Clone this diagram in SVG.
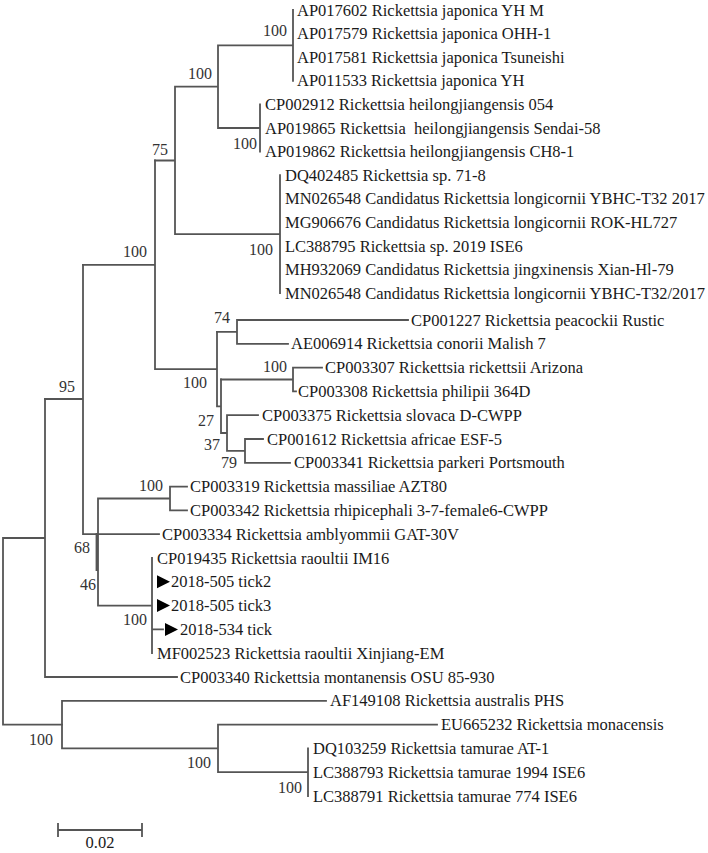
<svg xmlns="http://www.w3.org/2000/svg" width="708" height="853" viewBox="0 0 708 853">
<style>
.br{fill:none;stroke:#555;stroke-width:1.8;stroke-linecap:square}
.lf{font-family:"Liberation Serif","Times New Roman",serif;font-size:16.5px;fill:#1a1a1a}
.bs{font-family:"Liberation Serif","Times New Roman",serif;font-size:16px;fill:#333;text-anchor:end}
.mk{fill:#000}
</style>
<defs>
<polygon id="tri" points="0,-6.5 13,0 0,6.5"/>
</defs>
<rect width="708" height="853" fill="#fff"/>
<g id="connectors" class="br">
<path d="M293,10V80.8M218,45.4H293M260,104.4V151.6M218,128H260M218,45.4V128M175,86.7H218M280,175.2V293.2M175,234.2H280M175,86.7V234.2M155,160.5H175"/>
<path d="M237,320V343.8M237,320H408M237,343.8H288M217,331.9H237"/>
<path d="M293,367.6V391.4M293,367.6H322M293,391.4H296M221,379.5H293"/>
<path d="M245,439V462.8M245,439H263M245,462.8H290M227,450.9H245M227,415.2V450.9M227,415.2H258M221,433H227M221,379.5V433M217,406.3H221M217,331.9V406.3M155,369.1H217M155,160.5V369.1M83,264.8H155"/>
<path d="M83,264.8V534.2M45,399H83M83,534.2H159"/>
<path d="M170,486.6V510.4M170,486.6H187M170,510.4H187M98,498.5H170M152,558V653.2M98,605.6H152M152,629.4H163M98,498.5V605.6M96.5,534V570"/>
<path d="M45,399V677M45,677H177M3,538H45M3,538V724.6M3,724.6H62"/>
<path d="M62,700.8V748.4M62,700.8H326M62,748.4H218M218,724.6V772.2M218,724.6H437M218,772.2H308M308,748.4V796"/>
<path d="M58,830H142M58,824V836M142,824V836"/>
</g>
<g id="bootstrap">
<text class="bs" x="287" y="36">100</text>
<text class="bs" x="212" y="79">100</text>
<text class="bs" x="257" y="149">100</text>
<text class="bs" x="168" y="155">75</text>
<text class="bs" x="273" y="255">100</text>
<text class="bs" x="147" y="257">100</text>
<text class="bs" x="230" y="323">74</text>
<text class="bs" x="207" y="388">100</text>
<text class="bs" x="287" y="372">100</text>
<text class="bs" x="214" y="426">27</text>
<text class="bs" x="220" y="450">37</text>
<text class="bs" x="237" y="468">79</text>
<text class="bs" x="75" y="392">95</text>
<text class="bs" x="163" y="491">100</text>
<text class="bs" x="90" y="553">68</text>
<text class="bs" x="96" y="590">46</text>
<text class="bs" x="147" y="625">100</text>
<text class="bs" x="53" y="745">100</text>
<text class="bs" x="211" y="768">100</text>
<text class="bs" x="302" y="793">100</text>
</g>
<g id="n0"><text class="lf" x="297" y="15.5">AP017602 Rickettsia japonica YH M</text></g>
<g id="n1"><text class="lf" x="297" y="39.1">AP017579 Rickettsia japonica OHH-1</text></g>
<g id="n2"><text class="lf" x="297" y="62.7">AP017581 Rickettsia japonica Tsuneishi</text></g>
<g id="n3"><text class="lf" x="297" y="86.3">AP011533 Rickettsia japonica YH</text></g>
<g id="n4"><text class="lf" x="265" y="109.9">CP002912 Rickettsia heilongjiangensis 054</text></g>
<g id="n5"><text class="lf" x="265" y="133.5" xml:space="preserve">AP019865 Rickettsia  heilongjiangensis Sendai-58</text></g>
<g id="n6"><text class="lf" x="265" y="157.1">AP019862 Rickettsia heilongjiangensis CH8-1</text></g>
<g id="n7"><text class="lf" x="285" y="180.7">DQ402485 Rickettsia sp. 71-8</text></g>
<g id="n8"><text class="lf" x="285" y="204.3">MN026548 Candidatus Rickettsia longicornii YBHC-T32 2017</text></g>
<g id="n9"><text class="lf" x="285" y="227.9">MG906676 Candidatus Rickettsia longicornii ROK-HL727</text></g>
<g id="n10"><text class="lf" x="285" y="251.5">LC388795 Rickettsia sp. 2019 ISE6</text></g>
<g id="n11"><text class="lf" x="285" y="275.1">MH932069 Candidatus Rickettsia jingxinensis Xian-Hl-79</text></g>
<g id="n12"><text class="lf" x="285" y="298.7">MN026548 Candidatus Rickettsia longicornii YBHC-T32/2017</text></g>
<g id="n13"><text class="lf" x="411" y="325.5">CP001227 Rickettsia peacockii Rustic</text></g>
<g id="n14"><text class="lf" x="291" y="349.3">AE006914 Rickettsia conorii Malish 7</text></g>
<g id="n15"><text class="lf" x="325" y="373.1">CP003307 Rickettsia rickettsii Arizona</text></g>
<g id="n16"><text class="lf" x="298" y="396.9">CP003308 Rickettsia philipii 364D</text></g>
<g id="n17"><text class="lf" x="262" y="420.7">CP003375 Rickettsia slovaca D-CWPP</text></g>
<g id="n18"><text class="lf" x="267" y="444.5">CP001612 Rickettsia africae ESF-5</text></g>
<g id="n19"><text class="lf" x="294" y="468.3">CP003341 Rickettsia parkeri Portsmouth</text></g>
<g id="n20"><text class="lf" x="190" y="492.1">CP003319 Rickettsia massiliae AZT80</text></g>
<g id="n21"><text class="lf" x="190" y="515.9">CP003342 Rickettsia rhipicephali 3-7-female6-CWPP</text></g>
<g id="n22"><text class="lf" x="162" y="539.7">CP003334 Rickettsia amblyommii GAT-30V</text></g>
<g id="n23"><text class="lf" x="157" y="563.5">CP019435 Rickettsia raoultii IM16</text></g>
<g id="n24"><use href="#tri" class="mk" x="157" y="581.8"/><text class="lf" x="171" y="587.3">2018-505 tick2</text></g>
<g id="n25"><use href="#tri" class="mk" x="157" y="605.6"/><text class="lf" x="171" y="611.1">2018-505 tick3</text></g>
<g id="n26"><use href="#tri" class="mk" x="165" y="629.4"/><text class="lf" x="180" y="634.9">2018-534 tick</text></g>
<g id="n27"><text class="lf" x="157" y="658.7">MF002523 Rickettsia raoultii Xinjiang-EM</text></g>
<g id="n28"><text class="lf" x="180" y="682.5">CP003340 Rickettsia montanensis OSU 85-930</text></g>
<g id="n29"><text class="lf" x="330" y="706.3">AF149108 Rickettsia australis PHS</text></g>
<g id="n30"><text class="lf" x="441" y="730.1">EU665232 Rickettsia monacensis</text></g>
<g id="n31"><text class="lf" x="313" y="753.9">DQ103259 Rickettsia tamurae AT-1</text></g>
<g id="n32"><text class="lf" x="313" y="777.7">LC388793 Rickettsia tamurae 1994 ISE6</text></g>
<g id="n33"><text class="lf" x="313" y="801.5">LC388791 Rickettsia tamurae 774 ISE6</text></g>
<g id="scale"><text class="lf" x="100" y="848" text-anchor="middle">0.02</text></g>
</svg>
